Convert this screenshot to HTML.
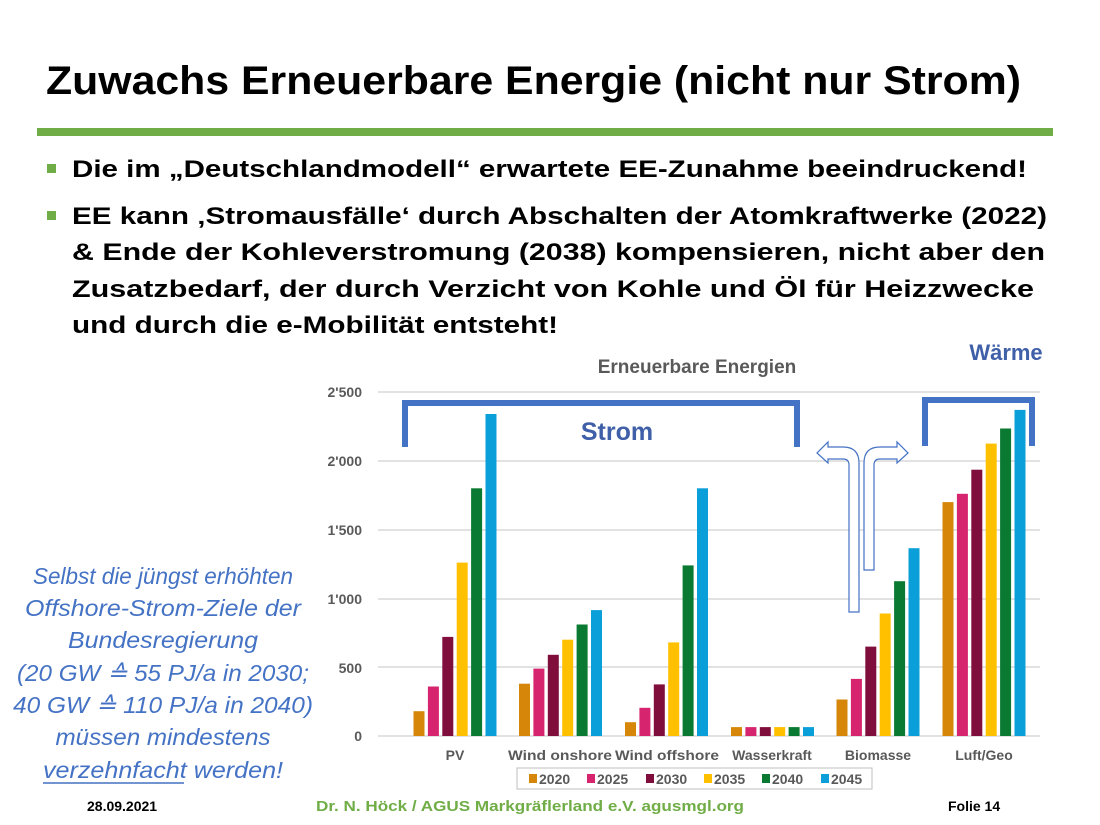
<!DOCTYPE html>
<html><head><meta charset="utf-8"><style>
html,body{margin:0;padding:0;background:#fff;}
svg{display:block;}
text{font-family:"Liberation Sans",Arial,sans-serif;}
</style></head><body>
<svg width="1100" height="825" viewBox="0 0 1100 825" xmlns="http://www.w3.org/2000/svg">
<rect width="1100" height="825" fill="#fff"/>
<text x="46" y="94" font-size="40" font-weight="bold" fill="#000" textLength="975" lengthAdjust="spacingAndGlyphs">Zuwachs Erneuerbare Energie (nicht nur Strom)</text>
<rect x="37" y="128" width="1016" height="8" fill="#70ad47"/>
<rect x="47" y="164" width="9" height="9" fill="#70ad47"/>
<rect x="47" y="211" width="9" height="9" fill="#70ad47"/>
<g font-size="24.5" font-weight="bold" fill="#000">
<text x="72" y="177" textLength="955" lengthAdjust="spacingAndGlyphs">Die im „Deutschlandmodell“ erwartete EE-Zunahme beeindruckend!</text>
<text x="72" y="224" textLength="975" lengthAdjust="spacingAndGlyphs">EE kann ‚Stromausfälle‘ durch Abschalten der Atomkraftwerke (2022)</text>
<text x="72" y="260" textLength="973" lengthAdjust="spacingAndGlyphs">&amp; Ende der Kohleverstromung (2038) kompensieren, nicht aber den</text>
<text x="72" y="297" textLength="962" lengthAdjust="spacingAndGlyphs">Zusatzbedarf, der durch Verzicht von Kohle und Öl für Heizzwecke</text>
<text x="72" y="333" textLength="486" lengthAdjust="spacingAndGlyphs">und durch die e-Mobilität entsteht!</text>
</g>
<!-- chart -->
<text x="697" y="373" font-size="19" font-weight="bold" fill="#595959" text-anchor="middle">Erneuerbare Energien</text>
<text x="1006" y="360" font-size="22" font-weight="bold" fill="#3f5fa8" text-anchor="middle">Wärme</text>
<g stroke="#d9d9d9" stroke-width="1.5">
<line x1="378" y1="392" x2="1040" y2="392"/>
<line x1="378" y1="461" x2="1040" y2="461"/>
<line x1="378" y1="530" x2="1040" y2="530"/>
<line x1="378" y1="599" x2="1040" y2="599"/>
<line x1="378" y1="667" x2="1040" y2="667"/>
<line x1="378" y1="736" x2="1040" y2="736"/>
</g>
<g font-size="14" font-weight="bold" fill="#595959" text-anchor="end">
<text x="362" y="397">2'500</text>
<text x="362" y="466">2'000</text>
<text x="362" y="535">1'500</text>
<text x="362" y="604">1'000</text>
<text x="362" y="673">500</text>
<text x="362" y="741">0</text>
</g>
<g font-size="14" font-weight="bold" fill="#595959" text-anchor="middle">
<text x="455" y="760">PV</text>
<text x="560" y="760" textLength="104" lengthAdjust="spacingAndGlyphs">Wind onshore</text>
<text x="667" y="760" textLength="104" lengthAdjust="spacingAndGlyphs">Wind offshore</text>
<text x="772" y="760">Wasserkraft</text>
<text x="878" y="760">Biomasse</text>
<text x="984" y="760">Luft/Geo</text>
</g>
<!-- bars -->
<g fill="#d6870a">
<rect x="413.5" y="711.2" width="11" height="24.8"/>
<rect x="519" y="683.7" width="11" height="52.3"/>
<rect x="625" y="722.2" width="11" height="13.8"/>
<rect x="731" y="727.1" width="11" height="8.9"/>
<rect x="836.5" y="699.5" width="11" height="36.5"/>
<rect x="942.5" y="502.1" width="11" height="233.9"/>
</g>
<g fill="#d6246e">
<rect x="427.9" y="686.5" width="11" height="49.5"/>
<rect x="533.4" y="668.6" width="11" height="67.4"/>
<rect x="639.4" y="707.8" width="11" height="28.2"/>
<rect x="745.4" y="727.1" width="11" height="8.9"/>
<rect x="850.9" y="678.9" width="11" height="57.1"/>
<rect x="956.9" y="493.8" width="11" height="242.2"/>
</g>
<g fill="#7f0e3d">
<rect x="442.3" y="636.9" width="11" height="99.1"/>
<rect x="547.8" y="654.8" width="11" height="81.2"/>
<rect x="653.8" y="684.4" width="11" height="51.6"/>
<rect x="759.8" y="727.1" width="11" height="8.9"/>
<rect x="865.3" y="646.6" width="11" height="89.4"/>
<rect x="971.3" y="469.7" width="11" height="266.3"/>
</g>
<g fill="#ffc000">
<rect x="456.7" y="562.6" width="11" height="173.4"/>
<rect x="562.2" y="639.7" width="11" height="96.3"/>
<rect x="668.2" y="642.4" width="11" height="93.6"/>
<rect x="774.2" y="727.1" width="11" height="8.9"/>
<rect x="879.7" y="613.5" width="11" height="122.5"/>
<rect x="985.7" y="443.6" width="11" height="292.4"/>
</g>
<g fill="#0a7a32">
<rect x="471.1" y="488.3" width="11" height="247.7"/>
<rect x="576.6" y="624.5" width="11" height="111.5"/>
<rect x="682.6" y="565.4" width="11" height="170.6"/>
<rect x="788.6" y="727.1" width="11" height="8.9"/>
<rect x="894.1" y="581.2" width="11" height="154.8"/>
<rect x="1000.1" y="428.5" width="11" height="307.5"/>
</g>
<g fill="#0a9fd8">
<rect x="485.5" y="414" width="11" height="322"/>
<rect x="591" y="610.1" width="11" height="125.9"/>
<rect x="697" y="488.3" width="11" height="247.7"/>
<rect x="803" y="727.1" width="11" height="8.9"/>
<rect x="908.5" y="548.2" width="11" height="187.8"/>
<rect x="1014.5" y="409.9" width="11" height="326.1"/>
</g>
<!-- brackets -->
<path d="M405 447 V403 H797 V447" fill="none" stroke="#4472c4" stroke-width="6"/>
<path d="M925 446 V400 H1032 V446" fill="none" stroke="#4472c4" stroke-width="6"/>
<text x="617" y="440" font-size="25" font-weight="bold" fill="#3f5fa8" text-anchor="middle">Strom</text>
<!-- arrows -->
<path d="M859 612 V463 Q859 447 843 447 H828 V442 L817 453 L828 463 V459 H843 Q849 459 849 465 V612 Z" fill="#fff" stroke="#4472c4" stroke-width="1.2"/>
<path d="M864 570 V463 Q864 447 880 447 H897 V442 L908 453 L897 463 V459 H880 Q874 459 874 465 V570 Z" fill="#fff" stroke="#4472c4" stroke-width="1.2"/>
<!-- legend -->
<rect x="517" y="768" width="355" height="21" fill="#fff" stroke="#bfbfbf" stroke-width="1"/>
<g font-size="14" font-weight="bold" fill="#595959">
<rect x="529" y="774" width="8" height="9" fill="#d6870a"/><text x="539" y="784">2020</text>
<rect x="587" y="774" width="8" height="9" fill="#d6246e"/><text x="597" y="784">2025</text>
<rect x="646" y="774" width="8" height="9" fill="#7f0e3d"/><text x="656" y="784">2030</text>
<rect x="704" y="774" width="8" height="9" fill="#ffc000"/><text x="714" y="784">2035</text>
<rect x="762" y="774" width="8" height="9" fill="#0a7a32"/><text x="772" y="784">2040</text>
<rect x="821" y="774" width="8" height="9" fill="#0a9fd8"/><text x="831" y="784">2045</text>
</g>
<!-- left note -->
<g font-size="23" font-style="italic" fill="#4472c4" text-anchor="middle">
<text x="163" y="584" textLength="260" lengthAdjust="spacingAndGlyphs">Selbst die jüngst erhöhten</text>
<text x="163" y="616" textLength="276" lengthAdjust="spacingAndGlyphs">Offshore-Strom-Ziele der</text>
<text x="163" y="648" textLength="190" lengthAdjust="spacingAndGlyphs">Bundesregierung</text>
<text x="163" y="681" textLength="292" lengthAdjust="spacingAndGlyphs">(20 GW ≙ 55 PJ/a in 2030;</text>
<text x="163" y="713" textLength="300" lengthAdjust="spacingAndGlyphs">40 GW ≙ 110 PJ/a in 2040)</text>
<text x="163" y="745" textLength="215" lengthAdjust="spacingAndGlyphs">müssen mindestens</text>
<text x="163" y="778" textLength="240" lengthAdjust="spacingAndGlyphs">verzehnfacht werden!</text>
</g>
<line x1="43" y1="783" x2="184" y2="783" stroke="#4472c4" stroke-width="1.5"/>
<!-- footer -->
<text x="87" y="811" font-size="14" font-weight="bold" fill="#000">28.09.2021</text>
<text x="316" y="811" font-size="15" font-weight="bold" fill="#70ad47" textLength="428" lengthAdjust="spacingAndGlyphs">Dr. N. Höck / AGUS Markgräflerland e.V.   agusmgl.org</text>
<text x="948" y="811" font-size="14" font-weight="bold" fill="#000">Folie 14</text>
</svg>
</body></html>
